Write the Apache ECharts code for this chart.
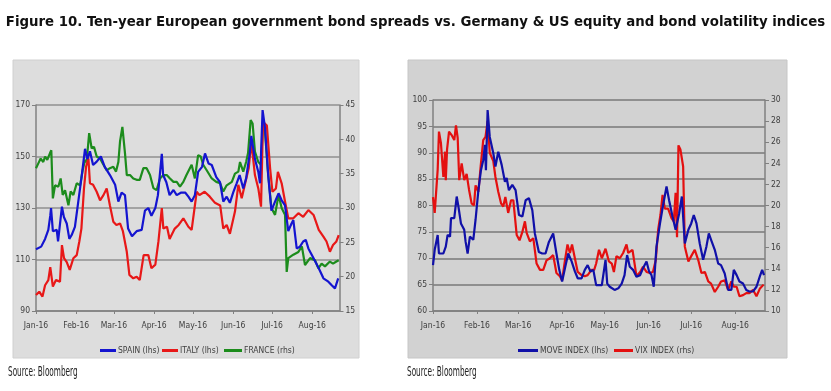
<!DOCTYPE html>
<html><head><meta charset="utf-8">
<script src="https://cdn.jsdelivr.net/npm/echarts@6/dist/echarts.min.js"></script>
<style>html,body{margin:0;padding:0;background:#fff}#c{width:831px;height:391px}</style>
</head><body><div id="c"></div>
<script>
// x values are days since 1 Jan 2016
const monthStarts = [0, 31, 60, 91, 121, 152, 182, 213];
const monthLabels = ['Jan-16','Feb-16','Mar-16','Apr-16','May-16','Jun-16','Jul-16','Aug-16'];

const spain = [[0,114],[4,115],[7,118],[9.5,121.5],[11,127],[11.6,130],[13,121],[16,121.5],[17,117],[18.5,117],[20,130.5],[21.5,126.5],[23.7,124],[25.7,118],[27.5,119.5],[30,122.7],[32.6,132.5],[35,141.5],[37.8,153],[39.6,149],[41.6,152],[44,146.7],[46.8,148],[50,150],[53,146],[57,142.8],[61,139],[63.5,132.5],[66,136],[68.6,135],[71,122],[74,119],[77.6,121],[81.5,121.5],[84,129],[86.6,130],[89,127],[92,130],[94,135],[97,151],[98,142.8],[100.5,140],[103,135],[106,137],[108.5,135],[112,136],[115,136],[117.5,134.4],[120,132.5],[122.5,135],[125,144],[128,146],[130.3,151.2],[133,147.3],[135.5,146.7],[139,142],[141.9,140],[144.4,132.5],[147,134.4],[149.5,132],[152,136],[154.7,139.6],[157,142.8],[159.8,137.6],[162,141.5],[164.8,151.2],[166,158],[168.8,149],[171.4,144],[172.7,139.6],[174.7,168],[176.6,161],[179,142.8],[181.5,129],[184.3,132.5],[187,135.7],[189.4,133],[192,131],[194.5,121],[197,124],[198.4,125.3],[201,114.3],[203.5,115],[206,117],[208,117.6],[210,114.3],[214,110.5],[218,106.6],[221.6,102.7],[225.4,101.4],[228,100],[230.5,98.8],[233,102.7]];
const italy = [[0,96.2],[2.5,97.5],[5,95.6],[7,100],[9.5,102],[11,107],[13,99.5],[15.4,102],[18.5,101.4],[20,115.6],[21.6,110.5],[23.7,109],[26,106],[28.8,110.5],[31.4,111.7],[33.4,117],[35,122],[37,137.6],[38.6,146],[40.4,149.3],[41.6,139.6],[44,139],[46.8,136.3],[49.4,133],[52,135],[54.5,137.6],[57,131],[59.6,124.7],[62,123.4],[64.8,124],[67,121],[70,113],[72,104],[75,102.7],[77.6,103.3],[80,102],[83,111.7],[86.6,111.7],[89,106.6],[92,108],[94.4,117],[97,130],[98.2,122],[101,122.7],[103,118],[107,122],[110,123.4],[113.6,126],[115,126.6],[117.5,122.7],[120,121.5],[121.3,121],[123.9,136.3],[126,135],[130,136.3],[134,134.4],[138,132],[142,131],[144.4,122],[147,123.4],[149.5,120],[153.4,128.6],[156,139],[158.6,133.8],[161,139],[164,145.4],[166,155.8],[168.8,142.8],[171.4,137.6],[173.5,130.5],[175,163.5],[178,162],[180.5,145.4],[182.3,136.3],[185,137.6],[186.5,144],[189.4,139.6],[192,132.5],[194.5,126],[198.4,126],[202.3,128],[206,126.6],[210,129.2],[214,127.3],[218,121.5],[221.6,118.9],[224,117],[226.6,113],[229,115.6],[231.6,117],[233.4,119.5]];
const france = [[0,35.8],[1.8,36.5],[3.6,37.2],[5.6,36.7],[7,37.5],[8.7,37],[10.8,38],[11.8,38.4],[13,31.4],[14.7,33.3],[17.2,33.1],[19,34.3],[20.6,31.9],[22.4,32.6],[25,30.4],[26.7,32.4],[28.8,31.9],[31.4,33.6],[34,33.3],[36,35.5],[37.8,37],[39,36.7],[41,40.9],[42.9,38.7],[44.7,38.9],[46.8,37.5],[49.4,37.2],[52,36.3],[54.5,35.5],[57,35.8],[59.6,36],[61.7,35.3],[63.5,36.7],[64.8,39.7],[66.6,41.8],[68.6,38],[70,34.8],[72.5,34.8],[75,34.3],[77.6,34.1],[80,34.1],[82.8,35.8],[85.3,35.8],[87.9,34.8],[90.5,32.9],[93,32.6],[95.6,34.3],[98.2,34.8],[100.8,34.8],[103.3,34.3],[106,33.8],[108.5,33.8],[111,33.1],[113.6,33.8],[116,34.8],[117.5,34.8],[120,36.3],[122.5,34.3],[125,37.7],[127,37.5],[128.9,36.3],[131.6,35.5],[135.5,34.3],[139,33.8],[142,33.6],[144.4,32.4],[147,33.3],[151,33.8],[153.4,35],[156,35.3],[157.3,36.7],[159.8,35.3],[162,36.7],[163.5,38],[165.5,42.8],[167,42.3],[168.8,38.2],[171.4,36.7],[173.5,36.3],[175,42.3],[176.3,41.8],[178.6,35.8],[181.5,30],[184.3,29],[187,31.9],[189.4,30],[192,29],[193.3,20.7],[194.5,22.7],[198.4,23.2],[202.3,23.6],[205,24.4],[207.4,21.7],[211.3,22.7],[215.1,22.4],[217.7,21.2],[220.2,21.9],[222.8,21.5],[226.6,22.2],[229,21.9],[231.6,22.2],[233.4,22.4]];
const move = [[0,68.7],[1.2,71.6],[3.3,74.4],[4.2,70.9],[7.3,70.9],[9,72.2],[10.3,74.4],[12,74.1],[12.7,77.6],[15,77.6],[16.7,81.7],[17.8,80],[19.7,76.6],[22,75.4],[23,73.1],[24.4,70.9],[26,74.1],[28.4,73.5],[30,77.3],[32,82.9],[33.8,86.7],[35.4,88.6],[36.6,91.5],[37.3,86.7],[38.5,98.1],[40,93],[42.5,89.9],[44,87.4],[46,90.2],[48.4,87.7],[50.7,84.5],[51.9,85.2],[53.5,82.9],[55.9,83.9],[58.2,82.9],[60.6,78.2],[63,77.9],[65.3,81],[67.6,81.4],[70,79.1],[71.8,74.7],[74.6,71.2],[77,70.9],[79.3,70.9],[81.7,73.1],[84.7,74.7],[87,70.9],[89,67.8],[91,65.6],[93,68.1],[95.3,70.9],[97.7,69.4],[100,67.5],[102,66.2],[104.7,66.2],[107,67.8],[109,68.7],[111,67.5],[113,67.8],[115,64.9],[119,64.9],[121.6,69.7],[122.8,65.2],[124.6,64.6],[128,64],[130.6,64.3],[133,65.2],[135,66.8],[136.8,70.6],[138.7,68.4],[141,67.8],[143.4,66.5],[146,66.8],[148,68.1],[150.5,69.4],[152.3,67.5],[154,66.8],[155.6,64.6],[157.5,72.2],[160,76.6],[162,79.8],[164.6,83.6],[166.4,81],[168.8,77.9],[171,75.4],[173.5,78.5],[175.4,81.7],[177.5,72.8],[180,75.4],[182,76.6],[183.8,78.2],[185.7,76.6],[188,72.8],[190.4,69.7],[192.7,72.2],[194.4,74.7],[196,73.5],[198.6,71.6],[201,69],[203,68.7],[205.6,67.1],[208,64],[210.3,64],[212,67.8],[214,66.8],[216,65.6],[218.5,65.2],[220.8,64],[223,63.7],[225.6,63.7],[228,64.6],[230.3,66.5],[232,67.8],[233.3,66.8]];
const vix = [[0,20.8],[1.2,19.3],[3.3,23.4],[4.2,27],[5.6,25.9],[7.3,22.7],[8.5,25.1],[9,22.4],[9.9,25.3],[11.3,27],[13,26.7],[15,26.2],[16.2,27.6],[17.4,26.4],[18.5,22.4],[20.2,24],[22,22.4],[23.7,23],[25.4,21.5],[27.2,20.2],[28.9,20],[30,21.9],[32,21.3],[33.6,23.7],[35.4,26.2],[37,26.5],[38.5,28],[40,25],[42.5,24.2],[44,22.7],[46,21.3],[48,20.2],[49.5,19.9],[51,20.8],[53,19.3],[55,20.5],[56.6,20.5],[59,17.2],[61,16.7],[63,17.5],[64.8,18.5],[66,17.4],[68.3,16.6],[70.7,16.9],[73,14.5],[75.4,13.9],[77.7,13.9],[80,14.8],[82.4,15],[84.7,15.3],[87,13.6],[89.4,13.3],[91,12.9],[93,14.8],[94.8,16.3],[96.5,15.5],[98,16.3],[100,15],[102,13.7],[104.7,13.4],[107,13.3],[109,13.4],[111.7,13.9],[113.6,13.9],[115,14.5],[117,15.8],[119,15],[121.6,15.9],[124,14.7],[126,14.5],[127.5,13.7],[129.3,15.2],[131.7,15],[134,15.5],[136.4,16.3],[137.6,15.5],[140.6,15.8],[143.4,13.3],[146,13.7],[148,14.2],[150.5,13.7],[152.8,13.6],[155,13.7],[157,14.8],[158.7,17.7],[160.3,19.1],[161.8,21],[163.4,19.7],[165.7,19.7],[168.1,18.8],[169.7,18.5],[171,21.2],[172,17],[173,25.7],[174.4,25.3],[176.3,23.7],[177.5,16.1],[180,14.7],[182,15.2],[184.5,15.8],[187,14.8],[189.2,13.6],[191.6,13.7],[194,12.8],[196,12.6],[198.6,11.8],[201,12.3],[203,12.8],[205.6,12.9],[208,12],[210.3,12.8],[212,12.3],[214,12.3],[216,11.4],[218.5,11.5],[220.8,11.7],[223,11.7],[225.6,12],[228,11.4],[230.3,12.1],[233,12.5]];

const FONT = "'Liberation Sans Narrow','DejaVu Sans Condensed','Liberation Sans',sans-serif";
const lbl = {fontSize: 8.5, color: '#404040', fontFamily: FONT};

function xAxisFor(g) {
  return {
    type: 'value', gridIndex: g, min: 0, max: 234,
    axisLine: {show: true, lineStyle: {color: '#808080', width: 1.5}},
    axisTick: {show: true, length: 3, customValues: monthStarts, lineStyle: {color: '#808080'}},
    axisLabel: Object.assign({customValues: monthStarts, margin: 10,
      formatter: v => monthLabels[monthStarts.indexOf(v)] || ''}, lbl),
    splitLine: {show: false}
  };
}
function yAxisFor(g, pos, min, max, interval, split, splitW) {
  return {
    type: 'value', gridIndex: g, position: pos, min, max, interval,
    axisLine: {show: true, lineStyle: {color: '#808080', width: 1.5}},
    axisTick: {show: true, length: 4, lineStyle: {color: '#808080'}},
    axisLabel: Object.assign({margin: 6}, lbl),
    splitLine: {show: split, lineStyle: {color: '#8f8f8f', width: splitW}}
  };
}
function line(name, data, x, y, color) {
  return {name, type: 'line', xAxisIndex: x, yAxisIndex: y, data, symbol: 'none',
    lineStyle: {color, width: 2.2}, itemStyle: {color}, animation: false};
}
function leg(name, left, w) {
  return {data: [name], left, top: 341, icon: 'rect', itemWidth: w, itemHeight: 3,
    itemGap: 0, textStyle: Object.assign({padding: [0, 0, 0, -3]}, lbl)};
}

const chart = echarts.init(document.getElementById('c'), null, {renderer: 'canvas'});
chart.setOption({
  backgroundColor: '#ffffff',
  animation: false,
  title: {
    text: 'Figure 10. Ten-year European government bond spreads vs. Germany & US equity and bond volatility indices',
    left: 'center', top: 10,
    textStyle: {fontSize: 14.8, fontWeight: 'bold', color: '#111', fontFamily: "'Liberation Sans Narrow','DejaVu Sans Condensed',sans-serif"}
  },
  graphic: [
    {type: 'rect', shape: {x: 13, y: 60, width: 346, height: 298}, style: {fill: '#dddddd', stroke: '#d0d0d0'}, z: -10},
    {type: 'rect', shape: {x: 408, y: 60, width: 379, height: 298}, style: {fill: '#d2d2d2', stroke: '#c6c6c6'}, z: -10},
    {type: 'text', x: 8, y: 365, style: {text: 'Source: Bloomberg', fill: '#222', font: "14px 'DejaVu Sans Condensed',sans-serif"}, scaleX: 0.58},
    {type: 'text', x: 407, y: 365, style: {text: 'Source: Bloomberg', fill: '#222', font: "14px 'DejaVu Sans Condensed',sans-serif"}, scaleX: 0.58}
  ],
  grid: [
    {left: 36, top: 105, width: 303.5, height: 206},
    {left: 433, top: 100, width: 332, height: 211}
  ],
  xAxis: [xAxisFor(0), xAxisFor(1)],
  yAxis: [
    yAxisFor(0, 'left', 90, 170, 20, true, 1.5),
    yAxisFor(0, 'right', 15, 45, 5, false, 1),
    yAxisFor(1, 'left', 60, 100, 5, true, 2),
    yAxisFor(1, 'right', 10, 30, 2, false, 1)
  ],
  legend: [
    leg('SPAIN (lhs)', 95, 16),
    leg('ITALY (lhs)', 157, 16),
    leg('FRANCE (rhs)', 219, 18),
    leg('MOVE INDEX (lhs)', 513, 20),
    leg('VIX INDEX (rhs)', 609, 19)
  ],
  series: [
    line('FRANCE (rhs)', france, 0, 1, '#1c8c1c'),
    line('ITALY (lhs)', italy, 0, 0, '#e81818'),
    line('SPAIN (lhs)', spain, 0, 0, '#1414d0'),
    line('VIX INDEX (rhs)', vix, 1, 3, '#e41010'),
    line('MOVE INDEX (lhs)', move, 1, 2, '#1010a8')
  ]
});
</script></body></html>
